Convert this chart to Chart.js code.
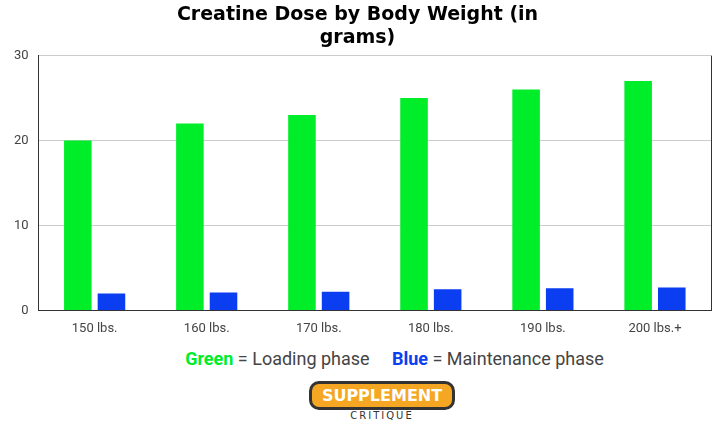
<!DOCTYPE html>
<html>
<head>
<meta charset="utf-8">
<script src="https://cdn.jsdelivr.net/npm/chart.js@4"></script>
<style>
  body { margin: 0; background: #fff; font-family: Roboto, sans-serif; }
  #wrap { width: 719px; height: 340px; }
  #note { text-align: center; font-size: 18px; color: #444; margin-top: 8px; padding-left: 70px; }
  #logo { text-align: center; margin-top: 12px; font-family: "DejaVu Sans", sans-serif; padding-left: 45px; }
  #logo .s { display: inline-block; border: 3px solid #333; border-radius: 10px; padding: 2px 10px; background: #f5a623; color: #fff; font-weight: bold; font-size: 16px; }
  #logo .c { font-size: 10px; color: #333; letter-spacing: 2px; }
</style>
</head>
<body>
<div id="wrap"><canvas id="chart"></canvas></div>
<div id="note"><b style="color:#00ee2a">Green</b> = Loading phase &nbsp;&nbsp;&nbsp; <b style="color:#0a3ef0">Blue</b> = Maintenance phase</div>
<div id="logo"><span class="s">SUPPLEMENT</span><div class="c">CRITIQUE</div></div>
<script>
const categories = ['150 lbs.', '160 lbs.', '170 lbs.', '180 lbs.', '190 lbs.', '200 lbs.+'];
const loadingDose = [20, 22, 23, 25, 26, 27];
const maintenanceDose = [2, 2.1, 2.2, 2.5, 2.6, 2.7];

// right-hand frame line like the reference
const rightBorder = {
    id: 'rightBorder',
    afterDraw(chart) {
        const { ctx, chartArea } = chart;
        ctx.save();
        ctx.strokeStyle = '#333';
        ctx.lineWidth = 1;
        ctx.beginPath();
        ctx.moveTo(chartArea.right + 0.5, chartArea.top);
        ctx.lineTo(chartArea.right + 0.5, chartArea.bottom);
        ctx.stroke();
        ctx.restore();
    }
};

new Chart(document.getElementById('chart'), {
    type: 'bar',
    data: {
        labels: categories,
        datasets: [
            { label: 'Loading', data: loadingDose, backgroundColor: '#00ee2a' },
            { label: 'Maintenance', data: maintenanceDose, backgroundColor: '#0a3ef0' }
        ]
    },
    options: {
        responsive: true,
        maintainAspectRatio: false,
        animation: false,
        layout: { padding: { right: 8, left: 4 } },
        datasets: { bar: { categoryPercentage: 0.6, barPercentage: 0.82 } },
        plugins: {
            legend: { display: false },
            title: {
                display: true,
                text: ['Creatine Dose by Body Weight (in', 'grams)'],
                color: '#000',
                font: { family: 'DejaVu Sans', size: 19, weight: 'bold' },
                padding: { top: 4, bottom: 6 }
            }
        },
        scales: {
            x: {
                grid: { display: false },
                border: { color: '#333' },
                ticks: { color: '#444', font: { family: 'Roboto', size: 13 } }
            },
            y: {
                min: 0, max: 30,
                ticks: { stepSize: 10, color: '#444', padding: 10, font: { family: 'Roboto', size: 13 } },
                grid: { color: '#ccc', drawTicks: false },
                border: { color: '#333' }
            }
        }
    },
    plugins: [rightBorder]
});
</script>
</body>
</html>
